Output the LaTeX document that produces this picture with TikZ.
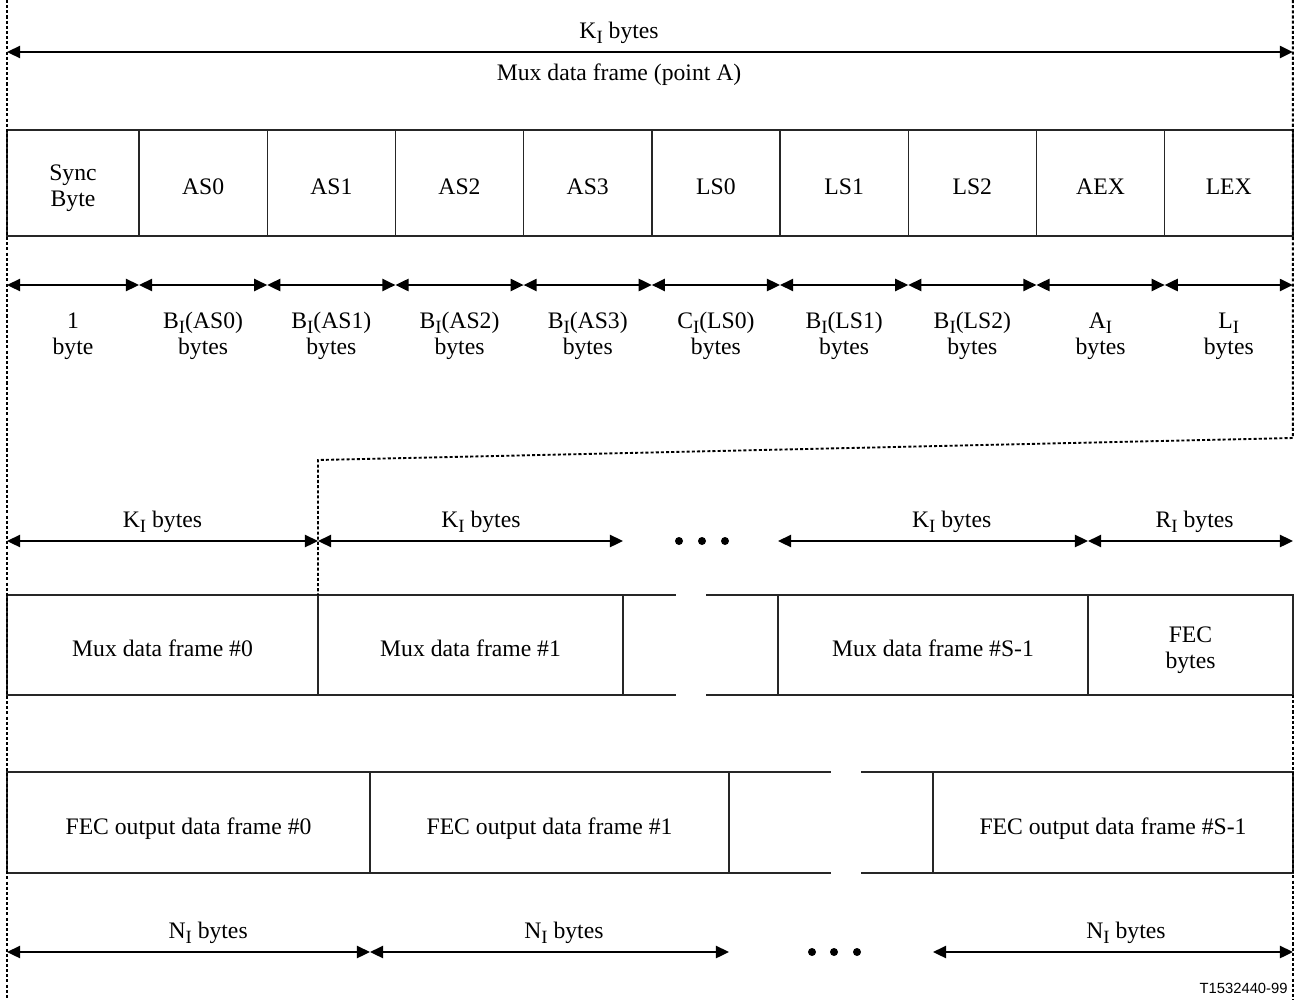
\documentclass[tikz,border=0pt]{standalone}
\usepackage{fontspec}
\setmainfont{Liberation Serif}
\newfontfamily\tagfont{Liberation Sans}
\usepackage{tikz}
\usetikzlibrary{arrows.meta}
\usetikzlibrary{positioning}
\newcommand{\subI}{\raisebox{-2.2pt}{\fontsize{8pt}{8pt}\selectfont I}}
\tikzstyle{field} = [rectangle, minimum width=19.23mm, minimum height=15.9mm, text centered, align=center, draw=black!85, line width=0.6pt, outer sep=0pt, inner sep=0pt]
\tikzstyle{oneline} = [text height=10.2pt, text depth=0pt]
\tikzstyle{twoline} = [text height=20pt, text depth=0pt]
\tikzstyle{frame} = [field, minimum height=15mm]
\tikzstyle{boxline} = [draw=black!85, line width=0.6pt]
\tikzstyle{dimarrow} = [line width=0.85pt, >={Triangle[length=5.6pt,width=5.2pt]}, <->]
\tikzstyle{dotline} = [line width=0.8pt, dash pattern=on 1.3pt off 0.9pt]
\tikzstyle{dimlabel} = [align=center, inner sep=0pt]

\begin{document}
\begin{tikzpicture}[x=0.15mm, y=-0.15mm, font=\fontsize{10.1pt}{11.1pt}\selectfont]
	\useasboundingbox (0,0) rectangle (1300,1000);
	\coordinate (top) at (0,0);
	\coordinate (bottom) at (0,1000);
	\coordinate (kline) at (0,52);
	\coordinate (dimline) at (0,285);
	\coordinate (dimtext) at (0,336);
	\coordinate (bendR) at (0,438);
	\coordinate (bendL) at (0,460);
	\coordinate (kiline) at (0,541);
	\coordinate (niline) at (0,952);
	% mux data frame fields
	\node (sync) [field, twoline, minimum width=19.8mm] at (73,183) {Sync\\Byte};
	\node (as0) [field, oneline, right=0pt of sync] {AS0};
	\node (as1) [field, oneline, right=0pt of as0] {AS1};
	\node (as2) [field, oneline, right=0pt of as1] {AS2};
	\node (as3) [field, oneline, right=0pt of as2] {AS3};
	\node (ls0) [field, oneline, right=0pt of as3] {LS0};
	\node (ls1) [field, oneline, right=0pt of ls0] {LS1};
	\node (ls2) [field, oneline, right=0pt of ls1] {LS2};
	\node (aex) [field, oneline, right=0pt of ls2] {AEX};
	\node (lex) [field, oneline, right=0pt of aex] {LEX};
	\draw [dimarrow] (sync.west |- kline) -- node [above, pos=0.476] {K\subI{} bytes} node [below=1.5pt, pos=0.476] {Mux data frame (point A)} (lex.east |- kline);
	\draw [dimarrow] (sync.west |- dimline) -- (sync.east |- dimline);
	\draw [dimarrow] (as0.west |- dimline) -- (as0.east |- dimline);
	\draw [dimarrow] (as1.west |- dimline) -- (as1.east |- dimline);
	\draw [dimarrow] (as2.west |- dimline) -- (as2.east |- dimline);
	\draw [dimarrow] (as3.west |- dimline) -- (as3.east |- dimline);
	\draw [dimarrow] (ls0.west |- dimline) -- (ls0.east |- dimline);
	\draw [dimarrow] (ls1.west |- dimline) -- (ls1.east |- dimline);
	\draw [dimarrow] (ls2.west |- dimline) -- (ls2.east |- dimline);
	\draw [dimarrow] (aex.west |- dimline) -- (aex.east |- dimline);
	\draw [dimarrow] (lex.west |- dimline) -- (lex.east |- dimline);
	\node (lsync) [dimlabel] at (sync |- dimtext) {1\\byte};
	\node (las0) [dimlabel] at (as0 |- dimtext) {B\subI(AS0)\\bytes};
	\node (las1) [dimlabel] at (as1 |- dimtext) {B\subI(AS1)\\bytes};
	\node (las2) [dimlabel] at (as2 |- dimtext) {B\subI(AS2)\\bytes};
	\node (las3) [dimlabel] at (as3 |- dimtext) {B\subI(AS3)\\bytes};
	\node (lls0) [dimlabel] at (ls0 |- dimtext) {C\subI(LS0)\\bytes};
	\node (lls1) [dimlabel] at (ls1 |- dimtext) {B\subI(LS1)\\bytes};
	\node (lls2) [dimlabel] at (ls2 |- dimtext) {B\subI(LS2)\\bytes};
	\node (laex) [dimlabel] at (aex |- dimtext) {A\subI\\bytes};
	\node (llex) [dimlabel] at (lex |- dimtext) {L\subI\\bytes};
	% mux data frames
	\node (mux0) [frame, oneline, minimum width=46.65mm] at (162.5,645) {Mux data frame \#0};
	\node (mux1) [frame, oneline, minimum width=45.75mm, right=0pt of mux0] {Mux data frame \#1};
	\node (muxs) [frame, oneline, minimum width=46.5mm] at (933,645) {Mux data frame \#S-1};
	\node (fecb) [frame, twoline, minimum width=30.75mm, right=0pt of muxs] {FEC\\bytes};
	\draw [boxline] (mux1.north east) -- ++(53,0) (mux1.south east) -- ++(53,0);
	\draw [boxline] (muxs.north west) -- ++(-72,0) (muxs.south west) -- ++(-72,0);
	\draw [dimarrow] (mux0.west |- kiline) -- node [above] {K\subI{} bytes} (mux0.east |- kiline);
	\draw [dimarrow] (mux1.west |- kiline) -- node [above, pos=0.534] {K\subI{} bytes} (mux1.east |- kiline);
	\draw [dimarrow] (muxs.west |- kiline) -- node [above, pos=0.56] {K\subI{} bytes} (muxs.east |- kiline);
	\draw [dimarrow] (fecb.west |- kiline) -- node [above, pos=0.52] {R\subI{} bytes} (fecb.east |- kiline);
	\foreach \x in {679,702,725} \fill (\x,541) circle (0.6mm);
	% FEC output data frames
	\node (out0) [frame, oneline, minimum width=54.45mm, minimum height=15.15mm] at (188.5,822.5) {FEC output data frame \#0};
	\node (out1) [frame, oneline, minimum width=53.85mm, minimum height=15.15mm, right=0pt of out0] {FEC output data frame \#1};
	\node (outs) [frame, oneline, minimum width=54mm, minimum height=15.15mm] at (1113,822.5) {FEC output data frame \#S-1};
	\draw [boxline] (out1.north east) -- ++(102,0) (out1.south east) -- ++(102,0);
	\draw [boxline] (outs.north west) -- ++(-72,0) (outs.south west) -- ++(-72,0);
	\draw [dimarrow] (out0.west |- niline) -- node [above, pos=0.554] {N\subI{} bytes} (out0.east |- niline);
	\draw [dimarrow] (out1.west |- niline) -- node [above, pos=0.54] {N\subI{} bytes} (out1.east |- niline);
	\draw [dimarrow] (outs.west |- niline) -- node [above, pos=0.536] {N\subI{} bytes} (outs.east |- niline);
	\foreach \x in {812,834,857} \fill (\x,952) circle (0.6mm);
	% dotted guides
	\draw [dotline] (sync.west |- top) -- (sync.west |- bottom);
	\draw [dotline] (lex.east |- top) -- (lex.east |- bendR) -- (mux1.west |- bendL) -- (mux1.north west);
	\draw [dotline] (fecb.south east) -- (fecb.east |- bottom);
	\node (tag) [anchor=east, inner sep=0pt, font=\tagfont\fontsize{6.3pt}{7pt}\selectfont] at (1288,988) {T1532440-99};
\end{tikzpicture}
\end{document}
